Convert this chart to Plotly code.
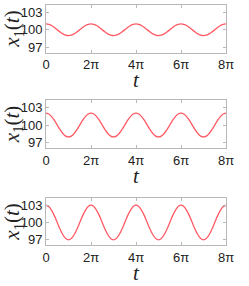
import plotly.graph_objects as go
import numpy as np

# time samples in units of pi (every pi/8)
t_pi = [i * 0.125 for i in range(65)]
x_top = [101.0, 100.92, 100.71, 100.38, 100.0, 99.62, 99.29, 99.08,
         99.0, 99.08, 99.29, 99.62, 100.0, 100.38, 100.71, 100.92] * 4 + [101.0]
x_mid = [102.0, 101.85, 101.41, 100.77, 100.0, 99.23, 98.59, 98.15,
         98.0, 98.15, 98.59, 99.23, 100.0, 100.77, 101.41, 101.85] * 4 + [102.0]
x_bot = [103.0, 102.77, 102.12, 101.15, 100.0, 98.85, 97.88, 97.23,
         97.0, 97.23, 97.88, 98.85, 100.0, 101.15, 102.12, 102.77] * 4 + [103.0]
x_ticks_pi = [0, 2, 4, 6, 8]
x_tick_labels = ["0", "2π", "4π", "6π", "8π"]
y_ticks = [97, 100, 103]

series = [x_top, x_mid, x_bot]
W, H = 249, 286
x0, x1 = 46, 226
panels_px = [(5, 52.7), (100, 148.3), (198.3, 245)]
x_dom = [x0 / W, x1 / W]

t_vals = [v * np.pi for v in t_pi]
fig = go.Figure()
frame = "#b8b8b8"
tickfont = dict(family="Liberation Sans, Arial, sans-serif", size=13, color="#222222")
titlefont = dict(family="Liberation Serif, Times New Roman, serif", size=21, color="#222222")

annotations = []
for i, ys in enumerate(series):
    n = "" if i == 0 else str(i + 1)
    top, bot = panels_px[i]
    fig.add_trace(go.Scatter(
        x=t_vals, y=ys, mode="lines",
        line=dict(color="rgb(255,90,100)", width=1.3, shape="spline", smoothing=0.6),
        xaxis="x" + n, yaxis="y" + n, showlegend=False, hoverinfo="skip",
    ))
    fig.update_layout(**{
        "xaxis" + n: dict(
            domain=x_dom, anchor="y" + n, range=[0, 8 * np.pi], automargin=False,
            tickvals=[v * np.pi for v in x_ticks_pi], ticktext=x_tick_labels,
            ticks="inside", ticklen=3, tickcolor=frame, tickwidth=1,
            showline=True, linecolor=frame, linewidth=1, mirror="ticks",
            showgrid=False, zeroline=False, tickfont=tickfont,
        ),
        "yaxis" + n: dict(
            domain=[1 - bot / H, 1 - top / H], anchor="x" + n, range=[96.1, 104.2],
            automargin=False,
            tickvals=y_ticks, ticks="inside", ticklen=3, tickcolor=frame, tickwidth=1,
            showline=True, linecolor=frame, linewidth=1, mirror="ticks",
            showgrid=False, zeroline=False, tickfont=tickfont,
        ),
    })
    annotations.append(dict(
        text="<i>t</i>", font=titlefont, showarrow=False,
        xref="paper", yref="paper", x=(x0 + x1) / 2 / W, y=1 - (bot + 27.5) / H,
        xanchor="center", yanchor="middle",
    ))
    annotations.append(dict(
        text="<i>x</i><sub>1</sub>(<i>t</i>)", font=titlefont, showarrow=False,
        xref="paper", yref="paper", x=13 / W, y=1 - (top + bot) / 2 / H,
        xanchor="center", yanchor="middle", textangle=-90,
    ))

fig.update_layout(
    width=W, height=H, margin=dict(l=0, r=0, t=0, b=0),
    paper_bgcolor="white", plot_bgcolor="white", annotations=annotations,
)
fig.write_html("out.html", config={"displayModeBar": False},
               post_script="document.body.style.margin='0';")
